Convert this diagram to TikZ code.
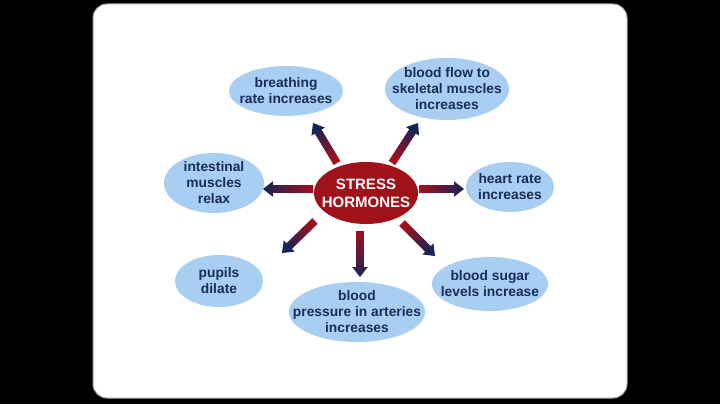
\documentclass[tikz,border=0pt]{standalone}
\usepackage{fontspec}
\setmainfont{Liberation Sans}
\usetikzlibrary{shapes.geometric,calc}
\definecolor{bub}{RGB}{168,206,242}
\definecolor{navytxt}{RGB}{24,44,94}
\definecolor{hred}{RGB}{160,18,26}
\definecolor{arrred}{RGB}{165,15,30}
\definecolor{arrnavy}{RGB}{22,36,88}
\definecolor{framegray}{RGB}{165,165,165}
\makeatletter
\newcommand\gradarrow[2]{%
  \pgfpointdiff{\pgfpointanchor{#1}{center}}{\pgfpointanchor{#2}{center}}%
  \edef\GAdx{\strip@pt\pgf@x}\edef\GAdy{\strip@pt\pgf@y}%
  \pgfmathsetmacro\GAsh{atan2(\GAdy,\GAdx)-90}%
  \coordinate (GAhb) at ($(#2)!10pt!(#1)$);
  \shade[top color=arrnavy, bottom color=arrred, shading angle=\GAsh]
    ($(#1)!3.9pt!90:(#2)$) -- ($(GAhb)!3.9pt!90:(#2)$) -- ($(GAhb)!7.8pt!90:(#2)$)
    -- (#2) -- ($(GAhb)!7.8pt!-90:(#2)$) -- ($(GAhb)!3.9pt!-90:(#2)$)
    -- ($(#1)!3.9pt!-90:(#2)$) -- cycle;
}
\makeatother
\tikzset{
  bubtext/.style={text=navytxt, align=center, inner sep=0pt,
    font=\bfseries\fontsize{13.8}{16}\selectfont},
  bubfill/.style={fill=bub},
  hubtext/.style={text=white, align=center, inner sep=0pt,
    font=\bfseries\fontsize{15}{18}\selectfont},
  hubfill/.style={fill=hred}
}
\begin{document}
\begin{tikzpicture}[x=1pt,y=-1pt]
\useasboundingbox (0,0) rectangle (720,404);
\fill[black] (0,0) rectangle (720,404);
\filldraw[fill=white, draw=framegray, line width=1pt, rounded corners=14pt] (93,4) rectangle (627,398);

% ellipses
\fill[hubfill] (366,193) ellipse [x radius=52, y radius=31];
\fill[bubfill] (286,91) ellipse [x radius=57, y radius=25];
\fill[bubfill] (447,89) ellipse [x radius=62, y radius=31];
\fill[bubfill] (214,183) ellipse [x radius=50, y radius=30];
\fill[bubfill] (510,187) ellipse [x radius=44, y radius=25];
\fill[bubfill] (219,281) ellipse [x radius=44, y radius=26];
\fill[bubfill] (357,312) ellipse [x radius=68, y radius=30];
\fill[bubfill] (490,284) ellipse [x radius=58, y radius=27];

% texts
\node[hubtext] (c) at (366,193) {STRESS\\HORMONES};
\node[bubtext] (br) at (286,91) {breathing\\rate increases};
\node[bubtext] (bf) at (447,89) {blood flow to\\skeletal muscles\\increases};
\node[bubtext] (im) at (214,183) {intestinal\\muscles\\relax};
\node[bubtext] (hr) at (510,187) {heart rate\\increases};
\node[bubtext] (pu) at (219,281) {pupils\\dilate};
\node[bubtext] (bp) at (357,312) {blood\\pressure in arteries\\increases};
\node[bubtext] (bs) at (490,284) {blood sugar\\levels increase};

% arrows
\coordinate (t1) at (337,163); \coordinate (h1) at (313,123);
\coordinate (t2) at (392,163); \coordinate (h2) at (418,123);
\coordinate (t3) at (313,189); \coordinate (h3) at (263,189);
\coordinate (t4) at (419,189); \coordinate (h4) at (464,189);
\coordinate (t5) at (315,221); \coordinate (h5) at (282,253);
\coordinate (t6) at (360,231); \coordinate (h6) at (360,277);
\coordinate (t7) at (402,223); \coordinate (h7) at (435,256);

\gradarrow{t1}{h1}
\gradarrow{t2}{h2}
\gradarrow{t3}{h3}
\gradarrow{t4}{h4}
\gradarrow{t5}{h5}
\gradarrow{t6}{h6}
\gradarrow{t7}{h7}
\end{tikzpicture}
\end{document}
